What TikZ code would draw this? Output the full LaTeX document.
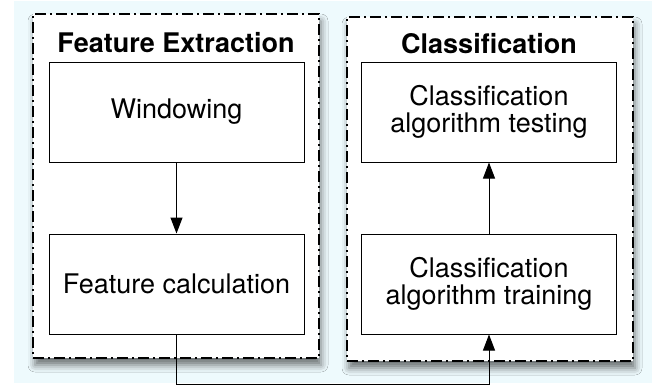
\documentclass[tikz,border=0pt]{standalone}
\usepackage{fontspec}
\setmainfont{TeX Gyre Heros}
\usetikzlibrary{arrows.meta, positioning, shadows.blur}
\definecolor{bgcyan}{RGB}{238,250,253}
\tikzset{group/.style={rectangle,draw,fill=white,line width=1pt,dash pattern=on 5.5pt off 2pt on 1pt off 2pt,minimum width=143pt,minimum height=172pt,blur shadow={shadow xshift=1pt,shadow yshift=-3.5pt,shadow blur radius=3.5pt,shadow opacity=55}},title/.style={font=\fontsize{13.5}{13.5}\selectfont\bfseries},box/.style={rectangle,draw,fill=white,align=center,line width=0.5pt,minimum width=127.5pt,minimum height=50pt},line/.style={-{Triangle[length=8pt,width=6pt]},line width=0.5pt}}

\begin{document}
\begin{tikzpicture}[x=0.5pt,y=-0.5pt,node distance=35.5pt,font=\fontsize{13.5}{13.5}\selectfont]
\useasboundingbox (0,0) rectangle (660,388);
\fill[bgcyan] (14,1) rectangle (652,383);
\node[group] (fe) at (176,186) {};
\node[group] (cl) at (490,189) {};
\node[title] (fet) at (176,43) {Feature Extraction};
\node[title] (clt) at (489,44) {Classification};
\node[box] (win) at (176.5,112) {Windowing};
\node[box, below=of win] (calc) {Feature calculation};
\node[box] (test) at (489,112) {Classification\\algorithm testing};
\node[box, below=of test] (train) {Classification\\algorithm training};
\draw[line] (win) -- (calc);
\draw[line] (train) -- (test);
\draw[line] (calc.south) -- ++(0,49.5) -| (train.south);
\end{tikzpicture}
\end{document}
